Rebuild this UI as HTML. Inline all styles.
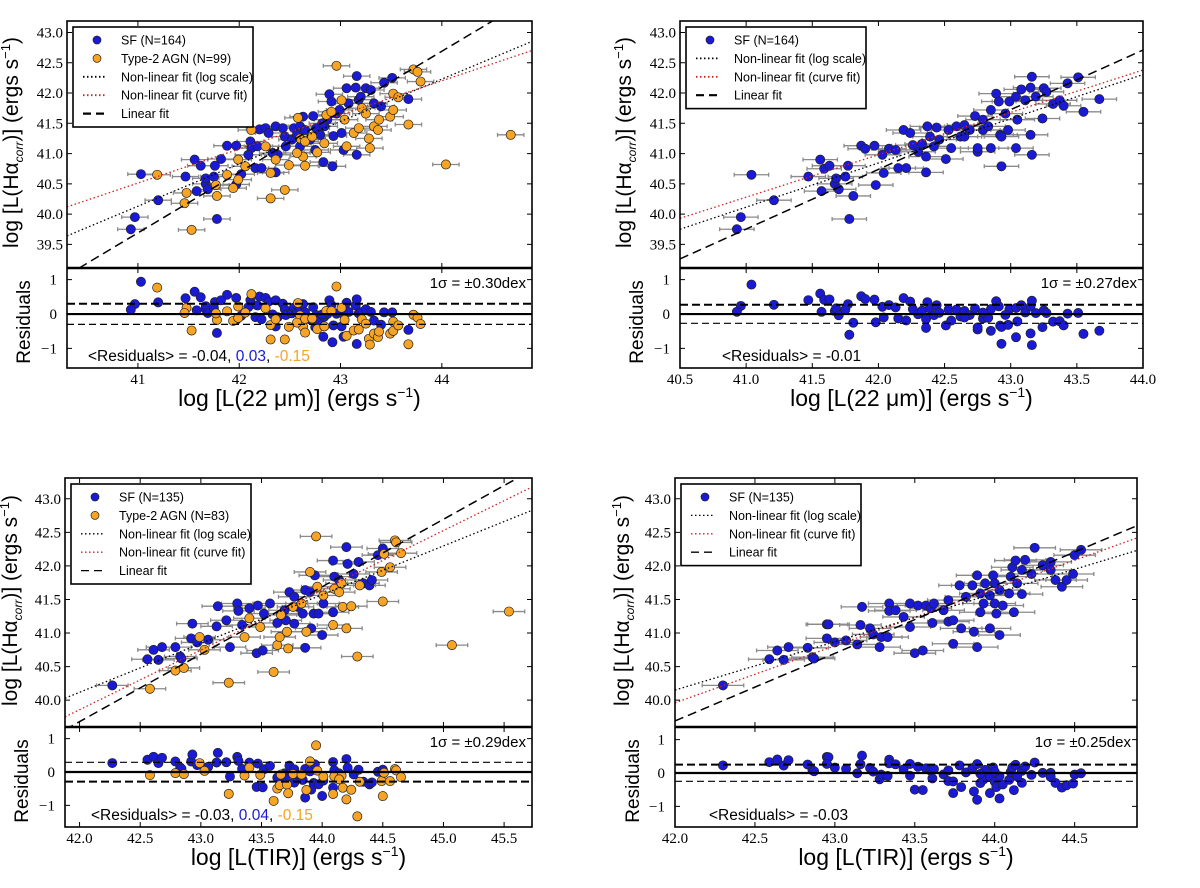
<!DOCTYPE html>
<html><head><meta charset="utf-8"><title>Halpha vs IR luminosity</title>
<style>
html,body{margin:0;padding:0;background:#fff;}
svg{display:block;}
.tk{font-family:"Liberation Serif",serif;font-size:15px;fill:#000;}
.ttl{font-family:"Liberation Sans",sans-serif;fill:#000;}
.lg{font-family:"Liberation Sans",sans-serif;font-size:12.5px;fill:#000;}
</style></head>
<body>
<svg id="fig" width="1200" height="888" viewBox="0 0 1200 888" xmlns="http://www.w3.org/2000/svg"></svg>
<script>
// ---------- DATA ----------
const tlSfX=[41.03,40.97,40.93,41.20,41.47,41.56,41.62,41.58,41.67,41.67,41.69,41.76,41.75,41.78,41.88,41.97,41.97,42.02,42.11,42.12,42.18,42.16,42.22,42.20,42.26,42.29,42.36,42.36,42.38,42.43,42.45,42.46,42.52,42.54,42.57,42.60,42.63,42.65,42.70,42.73,42.75,42.76,42.80,42.83,42.84,42.87,42.89,42.91,42.92,42.93,42.96,42.99,43.03,43.06,43.08,43.15,43.16,43.16,43.18,43.20,43.25,43.30,43.33,43.40,43.43,43.51,43.67,42.82,42.60,42.33,42.09,41.82,43.01];
const tlSfY=[40.66,39.95,39.75,40.23,40.62,40.90,40.80,40.38,40.50,40.59,40.41,40.80,40.62,39.92,41.13,41.13,40.49,40.66,41.20,41.09,41.12,40.76,40.76,41.40,41.42,41.34,41.45,40.69,40.98,41.42,41.28,41.12,41.23,41.42,41.31,41.45,41.61,41.39,41.23,41.62,41.06,41.42,41.31,40.86,41.45,41.56,41.98,41.86,40.79,41.29,41.66,41.72,41.06,42.08,41.83,42.09,42.28,40.98,41.89,41.94,42.08,42.05,41.83,41.78,42.17,42.25,41.90,41.50,41.12,41.01,40.98,40.91,41.34];
const tlAgnX=[41.19,41.48,41.46,41.53,41.78,41.77,41.88,41.94,41.99,41.99,42.06,42.12,42.26,42.31,42.31,42.45,42.49,42.58,42.60,42.63,42.65,42.65,42.72,42.77,42.86,42.91,42.96,43.01,43.04,43.06,43.13,43.18,43.21,43.25,43.28,43.29,43.33,43.37,43.38,43.49,43.52,43.52,43.57,43.67,43.72,43.76,43.79,44.04,44.68,42.36,42.57,42.84];
const tlAgnY=[40.65,40.35,40.18,39.74,40.30,40.48,40.65,40.43,40.57,40.90,40.79,41.39,41.12,40.26,40.68,40.40,40.81,41.59,41.25,40.95,40.80,41.20,41.28,41.02,41.64,41.69,42.45,41.88,41.56,41.12,41.34,41.42,41.75,41.66,41.25,41.09,41.45,41.39,41.56,41.61,41.72,41.99,41.93,41.48,42.39,42.35,42.19,40.82,41.31,40.90,41.01,41.17];
const trSfX=[41.04,40.96,40.93,41.21,41.47,41.56,41.59,41.63,41.57,41.67,41.68,41.70,41.77,41.75,41.81,41.78,41.87,41.90,41.97,41.98,42.04,42.03,42.08,42.13,42.15,42.19,42.21,42.24,42.26,42.30,42.33,42.36,42.36,42.37,42.39,42.42,42.44,42.46,42.51,42.53,42.55,42.59,42.62,42.65,42.69,42.73,42.75,42.75,42.79,42.83,42.85,42.89,42.91,42.92,42.93,42.93,42.98,42.99,43.04,43.04,43.05,43.08,43.11,43.15,43.15,43.16,43.16,43.19,43.24,43.25,43.27,43.32,43.37,43.40,43.43,43.51,43.55,43.67,42.85,42.79,42.96,42.65];
const trSfY=[40.65,39.95,39.75,40.23,40.62,40.90,40.75,40.80,40.38,40.50,40.59,40.41,40.80,40.62,40.30,39.92,41.13,41.08,41.13,40.48,40.68,40.98,41.08,41.06,40.76,41.39,40.76,41.34,41.14,41.03,41.16,40.69,40.95,41.45,41.28,41.12,41.43,41.23,40.91,41.39,41.09,41.45,41.28,41.47,41.39,41.62,41.03,41.09,41.39,41.45,41.09,41.99,41.86,41.31,40.79,41.28,41.39,41.86,41.94,41.09,41.56,42.06,41.88,42.09,41.31,40.98,42.27,41.94,41.58,42.08,42.02,41.82,41.88,41.79,42.16,42.26,41.69,41.90,41.72,41.56,41.66,41.28];
const blSfX=[42.27,42.56,42.61,42.65,42.68,42.79,42.83,42.84,42.92,42.93,42.97,43.06,43.13,43.14,43.21,43.24,43.30,43.31,43.34,43.40,43.46,43.47,43.51,43.52,43.57,43.63,43.69,43.70,43.73,43.77,43.80,43.84,43.86,43.86,43.90,43.93,43.94,43.97,44.00,44.01,44.09,44.09,44.10,44.14,44.20,44.21,44.26,44.30,44.34,44.39,44.41,44.46,44.50,43.91,43.77];
const blSfY=[40.22,40.61,40.75,40.60,40.79,40.79,40.65,40.62,40.92,41.14,40.86,40.90,41.10,41.40,41.19,40.79,41.44,41.33,41.12,41.37,40.70,41.41,40.74,41.29,41.44,41.15,41.34,41.19,41.61,41.54,41.39,41.29,41.64,40.78,41.61,41.29,41.86,41.29,40.97,41.44,42.08,41.31,41.84,41.79,42.28,42.03,41.88,42.06,41.74,41.71,41.79,42.16,42.26,41.07,41.14];
const blAgnX=[42.58,42.79,42.86,42.99,43.03,43.23,43.36,43.40,43.49,43.60,43.63,43.65,43.66,43.71,43.72,43.76,43.87,43.90,43.95,43.96,44.01,44.09,44.10,44.16,44.17,44.20,44.24,44.29,44.31,44.49,44.50,44.51,44.56,44.60,44.61,44.65,45.07,45.54,44.14,43.83];
const blAgnY=[40.17,40.44,40.48,40.94,40.75,40.26,40.94,41.22,41.09,40.42,40.82,40.94,41.27,41.02,40.77,41.39,41.02,41.91,42.44,41.69,41.56,41.12,41.66,41.74,41.39,41.07,41.40,40.65,41.71,41.91,41.47,42.18,41.98,42.38,42.35,42.19,40.82,41.32,41.61,41.44];
const brSfX=[42.30,42.59,42.64,42.68,42.71,42.83,42.86,42.87,42.95,42.96,42.95,43.00,43.07,43.14,43.16,43.17,43.22,43.24,43.28,43.29,43.33,43.34,43.34,43.38,43.43,43.47,43.47,43.50,43.52,43.55,43.57,43.60,43.61,43.62,43.68,43.71,43.71,43.74,43.74,43.78,43.79,43.82,43.86,43.87,43.89,43.89,43.91,43.93,43.94,43.97,43.97,43.99,44.00,44.01,44.03,44.05,44.09,44.10,44.11,44.12,44.13,44.17,44.17,44.19,44.23,44.25,44.30,44.35,44.35,44.38,44.42,44.45,44.49,44.50,44.54,44.03,43.91,44.00,44.14];
const brSfY=[40.22,40.61,40.74,40.60,40.79,40.78,40.64,40.62,41.13,41.13,40.92,40.86,40.89,40.83,41.12,41.39,41.07,40.98,40.79,40.94,40.94,41.44,41.33,41.34,41.24,41.09,41.44,40.70,41.41,40.74,41.41,41.37,41.15,41.44,41.34,41.49,41.17,41.19,40.84,41.71,41.07,41.54,41.71,41.02,41.86,40.79,41.31,41.44,41.74,41.07,41.56,41.86,41.44,41.29,40.97,41.41,41.59,41.84,41.98,41.31,42.08,41.94,41.58,42.09,41.88,42.27,42.01,42.06,41.94,41.79,41.69,41.79,41.88,42.16,42.24,41.64,41.59,41.74,41.74];
const tlLinFit=[1.0,-1.31], tlLogFit=[0.70,11.43], tlCurveFit=[0.563,17.43];
const trLinFit=[0.986,-0.673], trLogFit=[0.73,10.185], trCurveFit=[0.70,11.58];
const blLinFit=[1.005,-2.53], blLogFit=[0.727,9.583], blCurveFit=[0.89,2.477];
const brLinFit=[1.007,-2.604], brLogFit=[0.72,9.91], brCurveFit=[0.85,4.26];
const tlXTicks=[41,42,43,44], tlXLabels=["41","42","43","44"];
const trXTicks=[40.5,41.0,41.5,42.0,42.5,43.0,43.5,44.0];
const blXTicks=[42.0,42.5,43.0,43.5,44.0,44.5,45.0,45.5];
const brXTicks=[42.0,42.5,43.0,43.5,44.0,44.5];
const topYTicks=[39.5,40.0,40.5,41.0,41.5,42.0,42.5,43.0];
const botYTicks=[40.0,40.5,41.0,41.5,42.0,42.5,43.0];
const resTicks=[-1,0,1];
const sigmaTL=0.30, sigmaTR=0.27, sigmaBL=0.29, sigmaBR=0.25;

// ---------- DRAW ----------
const NS="http://www.w3.org/2000/svg";
const svg=document.getElementById('fig');
function mk(tag,attrs,parent){const e=document.createElementNS(NS,tag);for(const k in attrs)e.setAttribute(k,attrs[k]);(parent||svg).appendChild(e);return e;}

function panel(p){
  const g=mk('g',{});
  
  
  const sx=v=>p.x0+(v-p.xmin)/(p.xmax-p.xmin)*(p.x1-p.x0);
  const sy=v=>p.yTop+(p.ymax-v)/(p.ymax-p.ymin)*(p.yDiv-p.yTop);
  const ry=v=>p.yDiv+(p.rmax-v)/(p.rmax-p.rmin)*(p.yBot-p.yDiv);
  const cid=p.name+'-clip', rid=p.name+'-rclip';
  const cp=mk('clipPath',{id:cid},g);mk('rect',{x:p.x0,y:p.yTop,width:p.x1-p.x0,height:p.yDiv-p.yTop},cp);
  const rp=mk('clipPath',{id:rid},g);mk('rect',{x:p.x0,y:p.yDiv,width:p.x1-p.x0,height:p.yBot-p.yDiv},rp);
  const main=mk('g',{'clip-path':'url(#'+cid+')'},g);
  const res=mk('g',{'clip-path':'url(#'+rid+')'},g);
  const lin=v=>p.lin[0]*v+p.lin[1];
  p.series.forEach(s=>{
    for(let i=0;i<s.x.length;i++){
      const cx=sx(s.x[i]),cy=sy(s.y[i]);
      const eb=mk('path',{d:`M${sx(s.x[i]-0.13)},${cy}H${sx(s.x[i]+0.13)}M${sx(s.x[i]-0.13)},${cy-2}v4M${sx(s.x[i]+0.13)},${cy-2}v4M${cx},${sy(s.y[i]+0.05)}V${sy(s.y[i]-0.05)}`,stroke:'#8a8a8a','stroke-width':1.3,fill:'none'},main);
      
      
    }
  });
  p.series.forEach(s=>{
    for(let i=0;i<s.x.length;i++){
      const c=mk('circle',{cx:sx(s.x[i]),cy:sy(s.y[i]),r:4.6,fill:s.color,stroke:'#222','stroke-width':0.7},main);
      
      
      const r=mk('circle',{cx:sx(s.x[i]),cy:ry(s.y[i]-lin(s.x[i])),r:4.6,fill:s.color,stroke:'#222','stroke-width':0.7},res);
      
      
    }
  });
  const fl=(f,attrs,name)=>{const l=mk('line',Object.assign({x1:sx(p.xmin),y1:sy(f[0]*p.xmin+f[1]),x2:sx(p.xmax),y2:sy(f[0]*p.xmax+f[1]),fill:'none'},attrs),main);};
  fl(p.curve,{stroke:'#d02020','stroke-width':1.3,'stroke-dasharray':'1.5,2.5'},'curve-fit-line');
  fl(p.log,{stroke:'#000','stroke-width':1.3,'stroke-dasharray':'1.5,2.5'},'log-fit-line');
  fl(p.lin,{stroke:'#000','stroke-width':1.5,'stroke-dasharray':'9,5'},'linear-fit-line');
  const hl=(v,w,dash,name)=>{const l=mk('line',{x1:p.x0,x2:p.x1,y1:ry(v),y2:ry(v),stroke:'#000','stroke-width':w,'stroke-dasharray':dash},g);};
  hl(0,2.2,'none','zero-line');
  hl(p.sigma,p.upThick?2:1.2,p.upThick?'8,4':'7,4','plus-sigma-line');
  hl(-p.sigma,p.upThick?1.2:2,p.upThick?'7,4':'8,4','minus-sigma-line');
  mk('rect',{x:p.x0,y:p.yTop,width:p.x1-p.x0,height:p.yBot-p.yTop,fill:'none',stroke:'#000','stroke-width':1.6},g);
  mk('line',{x1:p.x0,x2:p.x1,y1:p.yDiv,y2:p.yDiv,stroke:'#000','stroke-width':2.4},g);
  p.xt.forEach((v,i)=>{
    const X=sx(v);
    mk('path',{d:`M${X},${p.yTop}v5M${X},${p.yDiv}v-5M${X},${p.yDiv}v5M${X},${p.yBot}v-5`,stroke:'#000','stroke-width':1},g);
    const t=mk('text',{x:X,y:p.yBot+16,'text-anchor':'middle',class:'tk'},g);t.textContent=p.xl?p.xl[i]:v.toFixed(1);
    
    
  });
  p.yt.forEach(v=>{
    const Y=sy(v);
    mk('path',{d:`M${p.x0},${Y}h5M${p.x1},${Y}h-5`,stroke:'#000','stroke-width':1},g);
    const t=mk('text',{x:p.x0-4,y:Y+5,'text-anchor':'end',class:'tk'},g);t.textContent=v.toFixed(1);
    
    
  });
  resTicks.forEach(v=>{
    const Y=ry(v);
    mk('path',{d:`M${p.x0},${Y}h5M${p.x1},${Y}h-5`,stroke:'#000','stroke-width':1},g);
    const t=mk('text',{x:p.x0-10,y:Y+5,'text-anchor':'end',class:'tk'},g);t.textContent=v<0?'\u2212'+Math.abs(v):String(v);
    
    
  });
  const yl=mk('text',{transform:`translate(${p.ylx},${(p.yTop+p.yDiv)/2-2}) rotate(-90)`,'text-anchor':'middle',class:'ttl','font-size':21},g);
  yl.innerHTML='log  [L(H\u03b1<tspan font-size="12" font-style="italic" dy="5">corr</tspan><tspan dy="-5">)] (ergs  s</tspan><tspan font-size="13" dy="-8">\u22121</tspan><tspan dy="8">)</tspan>';
  
  
  const rl=mk('text',{transform:`translate(${p.rlx},${(p.yDiv+p.yBot)/2+4}) rotate(-90)`,'text-anchor':'middle',class:'ttl','font-size':19},g);
  rl.textContent='Residuals';
  
  
  const xl=mk('text',{x:(p.x0+p.x1)/2,y:p.yBot+38,'text-anchor':'middle',class:'ttl','font-size':23},g);
  xl.innerHTML=p.xtitle+'  (ergs  s<tspan font-size="14" dy="-9">\u22121</tspan><tspan dy="9">)</tspan>';
  
  
  const st=mk('text',{x:p.x1-6,y:p.yDiv+20,'text-anchor':'end',class:'ttl','font-size':15},g);
  st.textContent='1\u03c3 = \u00b1'+p.sigma.toFixed(2)+'dex';
  
  
  const mt=mk('text',{x:p.resX,y:p.yDiv+93,class:'ttl','font-size':15.5},g);
  mt.innerHTML=p.resText;
  
  
  const lg=mk('g',{},g);
  
  
  const rows=p.legend.length;
  mk('rect',{x:p.x0+6,y:p.yTop+6,width:180,height:rows*18.4+8,fill:'#fff',stroke:'#000','stroke-width':1.6},lg);
  p.legend.forEach((e,i)=>{
    const y=p.yTop+6+13+i*18.4;
    const lx=p.x0+16;
    if(e.type==='pt') mk('circle',{cx:lx+14,cy:y,r:4,fill:e.color,stroke:'#222','stroke-width':0.7},lg);
    else mk('line',{x1:lx,x2:lx+24,y1:y,y2:y,stroke:e.color,'stroke-width':e.w,'stroke-dasharray':e.dash},lg);
    const t=mk('text',{x:lx+38,y:y+4.5,class:'lg'},lg);t.textContent=e.label;
    
    
  });
}
const BLUE='#1a1ad6', ORANGE='#f7a323';
const legFits=(thickLog)=>[
  {type:'ln',color:'#000',w:thickLog?1.8:1.3,dash:'1.5,2.5',label:'Non-linear fit (log scale)'},
  {type:'ln',color:'#d02020',w:thickLog?1.8:1.3,dash:'1.5,2.5',label:'Non-linear fit (curve fit)'},
  {type:'ln',color:'#000',w:thickLog?2.2:1.3,dash:'8,5',label:'Linear fit'}];

panel({name:'panel-22um-all',x0:67,x1:532,yTop:21,yDiv:268,yBot:368,xmin:40.30,xmax:44.89,ymin:39.11,ymax:43.19,rmin:-1.57,rmax:1.34,
  series:[{key:'sf',x:tlSfX,y:tlSfY,color:BLUE},{key:'agn',x:tlAgnX,y:tlAgnY,color:ORANGE}],
  lin:tlLinFit,log:tlLogFit,curve:tlCurveFit,sigma:sigmaTL,upThick:true,xt:tlXTicks,xl:tlXLabels,yt:topYTicks,ylx:18,rlx:30,
  xtitle:'log  [L(22 \u03bcm)]',resX:88,
  resText:'&lt;Residuals&gt; = -0.04, <tspan fill="#1a1ad6">0.03</tspan>, <tspan fill="#f7a323">-0.15</tspan>',
  legend:[{type:'pt',color:BLUE,label:'SF (N=164)'},{type:'pt',color:ORANGE,label:'Type-2 AGN (N=99)'}].concat(legFits(true))});

panel({name:'panel-22um-sf',x0:680,x1:1143,yTop:21,yDiv:268,yBot:368,xmin:40.5,xmax:44.0,ymin:39.11,ymax:43.19,rmin:-1.57,rmax:1.34,
  series:[{key:'sf',x:trSfX,y:trSfY,color:BLUE}],
  lin:trLinFit,log:trLogFit,curve:trCurveFit,sigma:sigmaTR,upThick:true,xt:trXTicks,yt:topYTicks,ylx:631,rlx:643,
  xtitle:'log  [L(22 \u03bcm)]',resX:722,resText:'&lt;Residuals&gt; = -0.01',
  legend:[{type:'pt',color:BLUE,label:'SF (N=164)'}].concat(legFits(true))});

panel({name:'panel-tir-all',x0:65,x1:532,yTop:478,yDiv:727,yBot:827,xmin:41.88,xmax:45.73,ymin:39.60,ymax:43.31,rmin:-1.65,rmax:1.35,
  series:[{key:'sf',x:blSfX,y:blSfY,color:BLUE},{key:'agn',x:blAgnX,y:blAgnY,color:ORANGE}],
  lin:blLinFit,log:blLogFit,curve:blCurveFit,sigma:sigmaBL,upThick:false,xt:blXTicks,yt:botYTicks,ylx:17,rlx:28,
  xtitle:'log  [L(TIR)]',resX:91,
  resText:'&lt;Residuals&gt; = -0.03, <tspan fill="#1a1ad6">0.04</tspan>, <tspan fill="#f7a323">-0.15</tspan>',
  legend:[{type:'pt',color:BLUE,label:'SF (N=135)'},{type:'pt',color:ORANGE,label:'Type-2 AGN (N=83)'}].concat(legFits(false))});

panel({name:'panel-tir-sf',x0:675,x1:1137,yTop:478,yDiv:727,yBot:827,xmin:42.0,xmax:44.89,ymin:39.60,ymax:43.31,rmin:-1.62,rmax:1.38,
  series:[{key:'sf',x:brSfX,y:brSfY,color:BLUE}],
  lin:brLinFit,log:brLogFit,curve:brCurveFit,sigma:sigmaBR,upThick:true,xt:brXTicks,yt:botYTicks,ylx:629,rlx:639,
  xtitle:'log  [L(TIR)]',resX:709,resText:'&lt;Residuals&gt; = -0.03',
  legend:[{type:'pt',color:BLUE,label:'SF (N=135)'}].concat(legFits(false))});
</script>
</body></html>
